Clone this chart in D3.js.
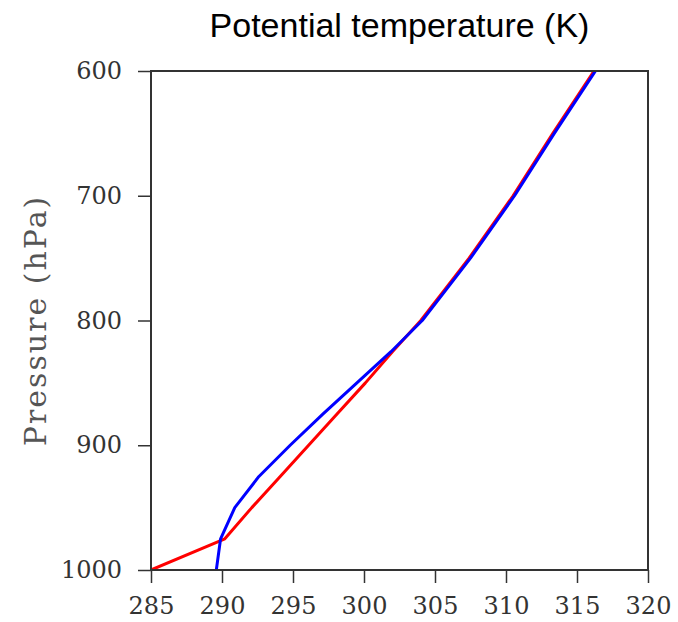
<!DOCTYPE html>
<html>
<head>
<meta charset="utf-8">
<script src="https://cdn.jsdelivr.net/npm/d3@7"></script>
<style>
  body { margin: 0; background: #fff; }
</style>
</head>
<body>
<script>
// pressure levels (hPa) and potential temperature (K) for the two profiles
let levels = [1000, 975, 950, 925, 900, 875, 850, 825, 800, 775, 750, 700, 650, 600],
    thetaRed  = [285.0, 290.2, 292.1, 294.1, 296.1, 298.1, 300.1, 302.0, 304.0, 305.7, 307.4, 310.5, 313.3, 316.2],
    thetaBlue = [289.6, 289.9, 290.9, 292.6, 294.8, 297.1, 299.5, 301.9, 304.1, 305.8, 307.5, 310.6, 313.4, 316.3],
    xTicks = [285, 290, 295, 300, 305, 310, 315, 320],
    yTicks = [600, 700, 800, 900, 1000];

let w = 678, h = 622,
    pLeft = 151, pRight = 648, pTop = 71, pBottom = 570;

let x = d3.scaleLinear().domain([285, 320]).range([pLeft, pRight]);
let y = d3.scaleLinear().domain([600, 1000]).range([pTop, pBottom]);

let svg = d3.select("body").append("svg").attr("width", w).attr("height", h);

let tickFont = "'DejaVu Serif', serif";

// x axis
let xAxis = svg.append("g")
  .attr("transform", "translate(0," + pBottom + ")")
  .call(d3.axisBottom(x).tickValues(xTicks).tickSize(13).tickPadding(14).tickFormat(d3.format("d")));
// y axis
let yAxis = svg.append("g")
  .attr("transform", "translate(" + pLeft + ",0)")
  .call(d3.axisLeft(y).tickValues(yTicks).tickSize(13).tickPadding(16).tickFormat(d3.format("d")));

[xAxis, yAxis].forEach(function(g){
  g.select(".domain").remove();
  g.selectAll(".tick line").attr("stroke", "#333").attr("stroke-width", 1.5);
  g.selectAll(".tick text").attr("fill", "#333").style("font-family", tickFont).style("font-size", "24px");
});

// profiles
let line = function(vals){
  return d3.line().x(function(d, i){ return x(vals[i]) }).y(function(d){ return y(d) })(levels);
};

svg.append("clipPath").attr("id", "clip").append("rect")
  .attr("x", pLeft).attr("y", pTop).attr("width", pRight - pLeft).attr("height", pBottom - pTop);

svg.append("path").attr("d", line(thetaRed))
  .attr("fill", "none").attr("stroke", "#ff0000").attr("stroke-width", 3)
  .attr("stroke-linejoin", "round").attr("clip-path", "url(#clip)");
svg.append("path").attr("d", line(thetaBlue))
  .attr("fill", "none").attr("stroke", "#0000ff").attr("stroke-width", 3)
  .attr("stroke-linejoin", "round").attr("clip-path", "url(#clip)");

// frame
svg.append("rect")
  .attr("x", pLeft).attr("y", pTop).attr("width", pRight - pLeft).attr("height", pBottom - pTop)
  .attr("fill", "none").attr("stroke", "#333").attr("stroke-width", 2);

// title
svg.append("text")
  .attr("x", (pLeft + pRight) / 2).attr("y", 37)
  .attr("text-anchor", "middle")
  .style("font-family", "'Liberation Sans', Arial, sans-serif").style("font-size", "34px")
  .attr("fill", "#000")
  .text("Potential temperature (K)");

// y label
svg.append("text")
  .attr("transform", "translate(46," + (pTop + pBottom) / 2 + ") rotate(-90)")
  .attr("text-anchor", "middle")
  .style("font-family", tickFont).style("font-size", "30px")
  .style("letter-spacing", "2px")
  .attr("fill", "#555")
  .text("Pressure (hPa)");
</script>
</body>
</html>
